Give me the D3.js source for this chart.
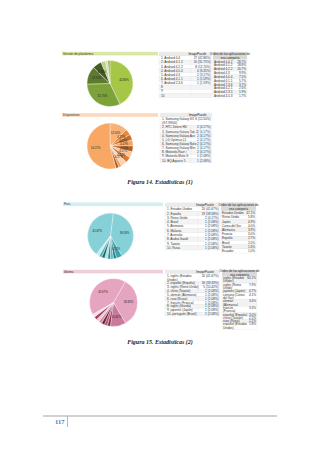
<!DOCTYPE html>
<html>
<head>
<meta charset="utf-8">
<script src="https://cdn.jsdelivr.net/npm/d3@7"></script>
<style>
  body { margin: 0; background: #fff; }
  svg { display: block; }
</style>
</head>
<body>
<div class="container"></div>
<script>
// --- Versión de plataforma ---
const versiones = ['Android 4.4', 'Android 4.1.2', 'Android 4.2.2', 'Android 4.0.4', 'Android 4.3', 'Android 4.1.1', 'Android 2.3.6', '', '', ''];
const versionesN = [27, 20, 8, 4, 2, 1, 1];
const versionesCat = ['Android 4.4.2', 'Android 4.1.2', 'Android 4.2.2', 'Android 4.3', 'Android 4.0.4', 'Android 4.1.1', 'Android 2.3.6', 'Android 4.2.1', 'Android 2.3.5', 'Android 4.0.3'];
const versionesCatPct = [28.7, 18.8, 16.7, 9.9, 7.5, 5.7, 3.7, 2.6, 1.9, 1.7];

// --- Dispositivos ---
const dispositivos = ['Samsung Galaxy S3 (GT-I9300)', 'HTC Desire HD', 'Samsung Galaxy Tab 2', 'Samsung Galaxy Ace', 'LG Optimus L5', 'Samsung Galaxy Note', 'Samsung Galaxy Mini', 'Motorola Razr i', 'Motorola Moto G', 'BQ Aquaris 5'];
const dispositivosN = [6, 2, 2, 2, 2, 2, 2, 2, 1, 1];
const dispositivosOtros = 26;

// --- País ---
const paises = ['Estados Unidos', 'España', 'Reino Unido', 'Brasil', 'Alemania', 'Malasia', 'Australia', 'Arabia Saudí', 'Taiwán', 'Rusia'];
const paisesN = [20, 19, 2, 1, 1, 1, 1, 1, 1, 1];
const paisesCat = ['Estados Unidos', 'Reino Unido', 'Japón', 'Corea del Sur', 'Alemania', 'Francia', 'España', 'Brasil', 'Taiwán', 'Ecuador'];
const paisesCatPct = [47.1, 5.8, 4.9, 4.0, 3.9, 3.0, 2.7, 2.0, 1.6, 1.0];

// --- Idioma ---
const idiomas = ['inglés (Estados Unidos)', 'español (España)', 'inglés (Reino Unido)', 'chino (Taiwán)', 'alemán (Alemania)', 'ruso (Rusia)', 'francés (Francia)', 'inglés (Irlanda)', 'japonés (Japón)', 'portugués (Brasil)'];
const idiomasN = [20, 16, 5, 1, 1, 1, 1, 1, 1, 1];
const idiomasCat = ['inglés (Estados Unidos)', 'inglés (Reino Unido)', 'japonés (Japón)', 'coreano (Corea del Sur)', 'alemán (Alemania)', 'francés (Francia)', 'español (España)', 'chino (Taiwán)', 'ruso (Rusia)', 'español (Estados Unidos)'];
const idiomasCatPct = [60.1, 7.9, 4.7, 4.1, 3.4, 3.3, 3.0, 2.2, 2.2, 1.8];

const cabecera1 = 'ImagePuzzle';
const cabecera2 = ['Orden de las aplicaciones de', 'esa categoría'];
const captions = ['Figura 14. Estadísticas (1)', 'Figura 15. Estadísticas (2)'];
const pagina = '117';

const width = 320;
const height = 453;
const sans = 'Liberation Sans, Arial, sans-serif';
const serif = 'Liberation Serif, Times New Roman, serif';
const fs = 3.1;

const svg = d3.select('.container')
  .append('svg')
  .attr('width', width)
  .attr('height', height);

const fmt = v => d3.format('.2f')(v) + '%';

function titleBar(title, x0, x1, y, color) {
  svg.append('rect')
    .attr('x', x0).attr('y', y).attr('width', x1 - x0).attr('height', 3.6)
    .attr('fill', color);
  svg.append('text')
    .attr('x', x0 + 1).attr('y', y + 2.7)
    .attr('font-family', sans).attr('font-size', fs)
    .attr('fill', '#333')
    .text(title);
}

function pieChart(values, colors, startDeg, cx, cy, r) {
  const total = d3.sum(values);
  const a0 = startDeg * Math.PI / 180;
  const arcs = d3.pie().sort(null).startAngle(a0).endAngle(a0 + 2 * Math.PI)(values);
  const arc = d3.arc().innerRadius(0).outerRadius(r);
  const labelArc = d3.arc().innerRadius(r * 0.62).outerRadius(r * 0.62);
  const g = svg.append('g').attr('transform', `translate(${cx}, ${cy})`);
  g.selectAll('path')
    .data(arcs)
    .join('path')
    .attr('d', arc)
    .attr('fill', (d, i) => colors[i % colors.length])
    .attr('stroke', '#fff')
    .attr('stroke-width', 0.35);
  g.selectAll('text')
    .data(arcs.filter(d => d.data / total >= 0.04))
    .join('text')
    .attr('transform', d => `translate(${labelArc.centroid(d)})`)
    .attr('text-anchor', 'middle')
    .attr('dy', '0.35em')
    .attr('font-family', sans).attr('font-size', 2.8)
    .attr('fill', '#222')
    .text(d => fmt(d.data / total * 100));
}

function wrap(text, maxChars) {
  const words = text.split(' ');
  const lines = [];
  let cur = '';
  words.forEach(w => {
    if (cur && (cur + ' ' + w).length > maxChars) { lines.push(cur); cur = w; }
    else cur = cur ? cur + ' ' + w : w;
  });
  lines.push(cur);
  return lines;
}

// tabla de la app: nombre + "n (pct%)"
function table1(names, counts, total, x0, x1, yTop, yBottom, maxChars) {
  const rows = names.map((n, i) => ({
    lines: n ? wrap(`${i + 1}. ${n}`, maxChars) : [`${i + 1}`],
    value: counts[i] !== undefined ? `${counts[i]} (${fmt(counts[i] / total * 100)})` : '',
  }));
  const nLines = 1 + d3.sum(rows, r => r.lines.length);
  const y = d3.scaleLinear().domain([0, nLines]).range([yTop, yBottom]);
  const split = x0 + (x1 - x0) * 0.6;
  const g = svg.append('g');
  g.append('rect').attr('x', x0).attr('y', y(0)).attr('width', x1 - x0).attr('height', y(1) - y(0)).attr('fill', '#ebebeb');
  g.append('text').attr('x', (split + x1) / 2 - 4).attr('y', y(0.78))
    .attr('text-anchor', 'middle').attr('font-family', sans).attr('font-size', fs).attr('fill', '#222')
    .text(cabecera1);
  let k = 1;
  rows.forEach((r, i) => {
    const h = r.lines.length;
    g.append('rect').attr('x', x0).attr('y', y(k)).attr('width', x1 - x0).attr('height', y(k + h) - y(k))
      .attr('fill', i % 2 ? '#f4f4f4' : '#fff').attr('stroke', '#dcdcdc').attr('stroke-width', 0.25);
    g.append('line').attr('x1', split).attr('x2', split).attr('y1', y(k)).attr('y2', y(k + h))
      .attr('stroke', '#dcdcdc').attr('stroke-width', 0.25);
    r.lines.forEach((t, j) => {
      g.append('text').attr('x', x0 + 2).attr('y', y(k + j + 0.78))
        .attr('font-family', sans).attr('font-size', fs).attr('fill', '#333').text(t);
    });
    g.append('text').attr('x', x1 - 1.5).attr('y', y(k + 0.78)).attr('text-anchor', 'end')
      .attr('font-family', sans).attr('font-size', fs).attr('fill', '#333').text(r.value);
    k += h;
  });
}

// tabla de la categoría: nombre + pct
function table2(names, pcts, x0, x1, yTop, yBottom, maxChars) {
  const rows = names.map((n, i) => ({ lines: wrap(n, maxChars), value: d3.format('.1f')(pcts[i]) + '%' }));
  const nLines = 2 + d3.sum(rows, r => r.lines.length);
  const y = d3.scaleLinear().domain([0, nLines]).range([yTop, yBottom]);
  const g = svg.append('g');
  g.append('rect').attr('x', x0).attr('y', y(0)).attr('width', x1 - x0).attr('height', y(2) - y(0)).attr('fill', '#d9d9d9');
  cabecera2.forEach((t, j) => {
    g.append('text').attr('x', (x0 + x1) / 2).attr('y', y(j + 0.8)).attr('text-anchor', 'middle')
      .attr('font-family', sans).attr('font-size', fs).attr('fill', '#222').text(t);
  });
  let k = 2;
  rows.forEach((r, i) => {
    const h = r.lines.length;
    g.append('rect').attr('x', x0).attr('y', y(k)).attr('width', x1 - x0).attr('height', y(k + h) - y(k))
      .attr('fill', i % 2 ? '#fff' : '#f2f2f2').attr('stroke', '#dcdcdc').attr('stroke-width', 0.25);
    r.lines.forEach((t, j) => {
      g.append('text').attr('x', x0 + 1).attr('y', y(k + j + 0.78))
        .attr('font-family', sans).attr('font-size', fs).attr('fill', '#333').text(t);
    });
    g.append('text').attr('x', x1 - 1).attr('y', y(k + 0.78)).attr('text-anchor', 'end')
      .attr('font-family', sans).attr('font-size', fs).attr('fill', '#333').text(r.value);
    k += h;
  });
}

// 1. Versión de plataforma
titleBar('Versión de plataforma', 62, 158, 51.8, '#d7e8a6');
pieChart(versionesN, ['#a5c646', '#7da23a', '#5d7b2d', '#435c22', '#b8d384', '#cfe1a9', '#93b55a'], 0, 110, 83.5, 23);
table1(versiones, versionesN, d3.sum(versionesN), 159, 212, 51.8, 97.5, 22);
table2(versionesCat, versionesCatPct, 213, 247, 51.8, 98, 16);

// 2. Dispositivos
const dispValues = dispositivosN.concat([dispositivosOtros]);
titleBar('Dispositivos', 62, 158, 113.2, '#fcd9bd');
pieChart(dispValues, ['#f7b27a', '#e48a3e', '#c86d2a', '#f4a55f', '#b85f22', '#f9c498', '#d97b33', '#fbd3b0', '#ef9a50', '#a9561e', '#f8a864'], 0, 110, 146, 23);
table1(dispositivos, dispositivosN, d3.sum(dispValues), 160, 212, 112.8, 162.5, 23);

svg.append('text').attr('x', 160).attr('y', 184).attr('text-anchor', 'middle')
  .attr('font-family', serif).attr('font-style', 'italic').attr('font-weight', 'bold')
  .attr('font-size', 6).attr('fill', '#222').text(captions[0]);

// 3. País
titleBar('País', 63, 163, 202.5, '#d4eef1');
pieChart(paisesN, ['#86d1d7', '#86d1d7', '#3aa3ad', '#1f7c86', '#5dbcc4', '#2b929c', '#a9e0e4', '#176670', '#4bb0b9', '#c3eaed'], -142.5, 110.5, 236, 23);
table1(paises, paisesN, d3.sum(paisesN), 165, 220, 202.5, 250, 22);
table2(paisesCat, paisesCatPct, 221, 256, 202.5, 253, 16);

// 4. Idioma
titleBar('Idioma', 63, 163, 269.8, '#f0cdda');
pieChart(idiomasN, ['#e5a4bf', '#e5a4bf', '#c97a9a', '#8f2c4c', '#b0567a', '#6e1f3a', '#d18aa7', '#f1c8d7', '#9e3d60', '#f6dbe5'], -120, 113.5, 302.5, 24);
table1(idiomas, idiomasN, d3.sum(idiomasN), 165, 220, 269.8, 316, 24);
table2(idiomasCat, idiomasCatPct, 222, 257, 269.8, 329.5, 16);

svg.append('text').attr('x', 160).attr('y', 344).attr('text-anchor', 'middle')
  .attr('font-family', serif).attr('font-style', 'italic').attr('font-weight', 'bold')
  .attr('font-size', 6).attr('fill', '#222').text(captions[1]);

// pie de página
svg.append('line').attr('x1', 43).attr('x2', 277).attr('y1', 416).attr('y2', 416)
  .attr('stroke', '#a6a6a6').attr('stroke-width', 1.2);
svg.append('line').attr('x1', 67.5).attr('x2', 67.5).attr('y1', 416).attr('y2', 427)
  .attr('stroke', '#a6a6a6').attr('stroke-width', 0.8);
svg.append('text').attr('x', 64.5).attr('y', 424).attr('text-anchor', 'end')
  .attr('font-family', serif).attr('font-weight', 'bold').attr('font-size', 6.5)
  .attr('fill', '#4a7ab8').text(pagina);
</script>
</body>
</html>
